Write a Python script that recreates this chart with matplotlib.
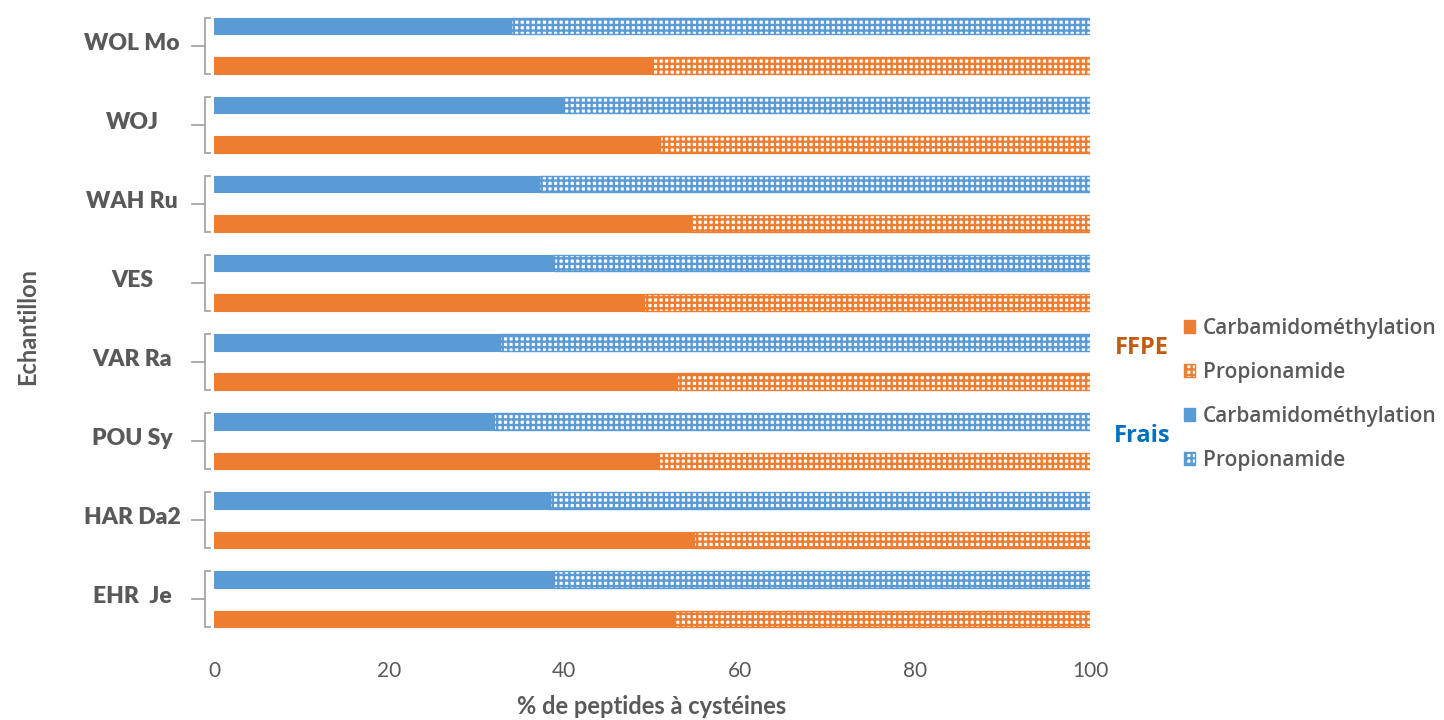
import matplotlib
matplotlib.use("Agg")
import matplotlib.pyplot as plt
from matplotlib.patches import Patch
import matplotlib.transforms as mtransforms

# ---- data ----
samples = ["WOL Mo", "WOJ", "WAH Ru", "VES", "VAR Ra", "POU Sy", "HAR Da2", "EHR  Je"]
frais_carb = [33.9, 40.0, 37.1, 38.8, 32.6, 32.0, 38.4, 38.8]
frais_prop = [66.1, 60.0, 62.9, 61.2, 67.4, 68.0, 61.6, 61.2]
ffpe_carb = [50.0, 50.9, 54.4, 49.1, 52.8, 50.8, 54.8, 52.6]
ffpe_prop = [50.0, 49.1, 45.6, 50.9, 47.2, 49.2, 45.2, 47.4]
xticks = [0, 20, 40, 60, 80, 100]
legend_labels = ["Carbamidométhylation", "Propionamide", "Carbamidométhylation", "Propionamide"]
group_names = ["FFPE", "Frais"]

BLUE = "#5B9BD5"
ORANGE = "#ED7D31"
GREY = "#595959"
FFPE_COL = "#C55A11"
FRAIS_COL = "#0070C0"

plt.rcParams["hatch.linewidth"] = 1.7
plt.rcParams["font.family"] = ["Lato", "DejaVu Sans"]

W, H = 1444, 720
fig = plt.figure(figsize=(W / 100, H / 100), dpi=100)
left_px, right_px = 214, 1090
top_px, bot_px = 6.2, 646.7
ax = fig.add_axes([left_px / W, 1 - bot_px / H, (right_px - left_px) / W, (bot_px - top_px) / H])

n = len(samples)
pos = [n - 1 - i for i in range(n)]  # top sample at top
bh = 0.21
off = 0.25
y_blue = [p + off for p in pos]
y_or = [p - off for p in pos]

# solid parts
ax.barh(y_blue, frais_carb, height=bh, color=BLUE, edgecolor=BLUE, linewidth=0.8)
ax.barh(y_or, ffpe_carb, height=bh, color=ORANGE, edgecolor=ORANGE, linewidth=0.8)
# hatched (checker-like) parts
ax.barh(y_blue, frais_prop, left=frais_carb, height=bh, facecolor="white",
        edgecolor=BLUE, hatch="+++", linewidth=1.0)
ax.barh(y_or, ffpe_prop, left=ffpe_carb, height=bh, facecolor="white",
        edgecolor=ORANGE, hatch="+++", linewidth=1.0)

ax.set_xlim(0, 100)
ax.set_ylim(-0.6, n - 1 + 0.5)
for s in ax.spines.values():
    s.set_visible(False)
ax.set_yticks([])
ax.set_xticks(xticks)
ax.set_xticklabels([str(v) for v in xticks], fontsize=15, color=GREY)
ax.tick_params(axis="x", length=0, pad=10)

ax.set_xlabel("% de peptides à cystéines", fontsize=17, fontweight="bold", color=GREY)
ax.xaxis.set_label_coords(0.5, (bot_px - 714) / (bot_px - top_px))
ax.xaxis.label.set_verticalalignment("baseline")
ax.set_ylabel("Echantillon", fontsize=17, fontweight="bold", color=GREY)
ax.yaxis.set_label_coords((39 - left_px) / (right_px - left_px), 0.5)

# multi-level category brackets + labels
trans = mtransforms.blended_transform_factory(ax.transAxes, ax.transData)
bx = (205 - left_px) / (right_px - left_px)
hx = (210 - left_px) / (right_px - left_px)
tx = (192 - left_px) / (right_px - left_px)
lx = (132 - left_px) / (right_px - left_px)
ext = off + bh / 2
for p, name in zip(pos, samples):
    ax.plot([hx, bx, bx, hx], [p + ext, p + ext, p - ext, p - ext], transform=trans,
            color="#A6A6A6", lw=1.3, clip_on=False, solid_joinstyle="miter")
    ax.plot([tx, bx], [p, p], transform=trans, color="#A6A6A6", lw=1.3, clip_on=False)
    ax.text(lx, p + 0.03, name, transform=trans, ha="center", va="center",
            fontsize=16.5, fontweight="heavy", color=GREY)

# legend
handles = [
    Patch(facecolor=ORANGE, edgecolor=ORANGE),
    Patch(facecolor="white", edgecolor=ORANGE, hatch="+++"),
    Patch(facecolor=BLUE, edgecolor=BLUE),
    Patch(facecolor="white", edgecolor=BLUE, hatch="+++"),
]
leg = fig.legend(handles, legend_labels, loc="upper left",
                 bbox_to_anchor=(1184 / W, 1 - 318 / H), frameon=False,
                 prop={"family": ["Open Sans", "DejaVu Sans"], "weight": "semibold", "size": 15},
                 handlelength=0.55, handleheight=0.55, handletextpad=0.35,
                 labelspacing=1.1, borderpad=0, borderaxespad=0)
for t in leg.get_texts():
    t.set_color(GREY)

fig.text(1142 / W, 1 - 348 / H, group_names[0], ha="center", va="center",
         fontsize=17, fontweight="bold", color=FFPE_COL,
         family=["Open Sans", "DejaVu Sans"])
fig.text(1142 / W, 1 - 436 / H, group_names[1], ha="center", va="center",
         fontsize=17, fontweight="bold", color=FRAIS_COL,
         family=["Open Sans", "DejaVu Sans"])

fig.savefig("out.png", dpi=100)
